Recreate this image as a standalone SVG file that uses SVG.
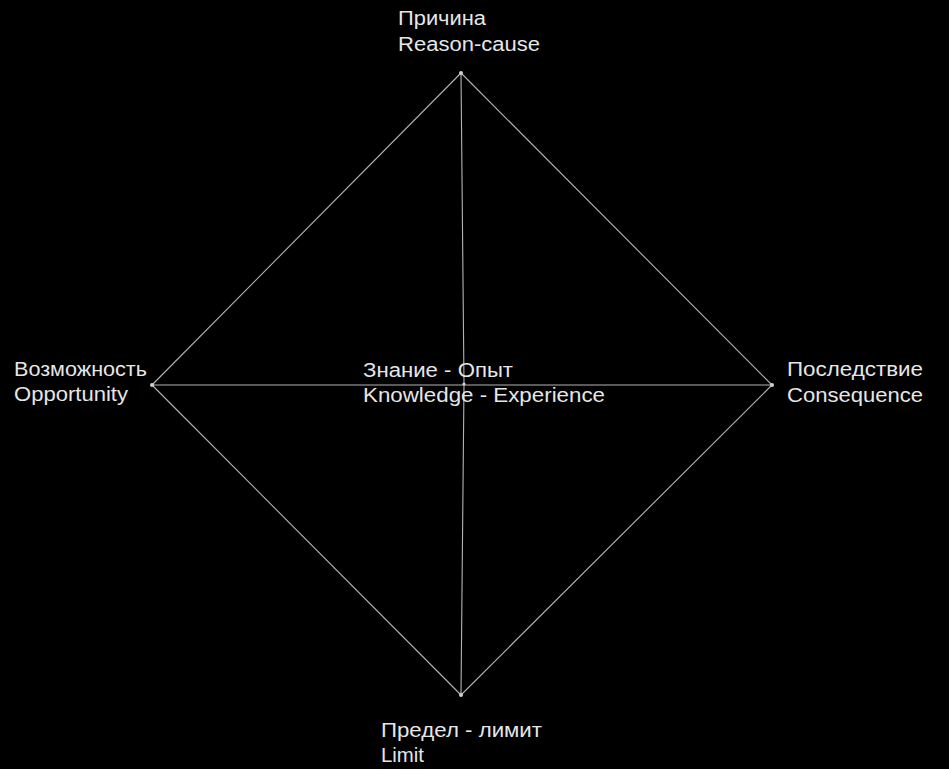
<svg xmlns="http://www.w3.org/2000/svg" width="949" height="769" viewBox="0 0 949 769">
<style>
.t{font-family:"Liberation Sans",Arial,sans-serif;font-size:20px;fill:#e6e6e6}
.e{stroke:#b4b4b4;stroke-width:1.1;fill:none}
.d{fill:#d0d0d0}
</style>
<rect width="949" height="769" fill="#000"/>
<g id="connectors">
<line class="e" x1="461" y1="73" x2="152" y2="385"/>
<line class="e" x1="461" y1="73" x2="772" y2="385"/>
<line class="e" x1="152" y1="385" x2="461" y2="695"/>
<line class="e" x1="772" y1="385" x2="461" y2="695"/>
<line class="e" x1="152" y1="385" x2="772" y2="385"/>
<polyline class="e" points="461,73 464,384 461,695"/>
</g>
<g id="node-top">
<circle class="d" cx="461" cy="73" r="2"/>
<text class="t" x="398" y="25" textLength="88" lengthAdjust="spacingAndGlyphs">Причина</text>
<text class="t" x="398" y="51" textLength="142" lengthAdjust="spacingAndGlyphs">Reason-cause</text>
</g>
<g id="node-left">
<circle class="d" cx="152" cy="385" r="2"/>
<text class="t" x="14" y="376" textLength="133" lengthAdjust="spacingAndGlyphs">Возможность</text>
<text class="t" x="14" y="401" textLength="114" lengthAdjust="spacingAndGlyphs">Opportunity</text>
</g>
<g id="node-center">
<circle class="d" cx="464" cy="384" r="1.6"/>
<text class="t" x="363" y="377" textLength="150" lengthAdjust="spacingAndGlyphs">Знание - Опыт</text>
<text class="t" x="363" y="402" textLength="242" lengthAdjust="spacingAndGlyphs">Knowledge - Experience</text>
</g>
<g id="node-right">
<circle class="d" cx="772" cy="385" r="2"/>
<text class="t" x="787" y="376" textLength="136" lengthAdjust="spacingAndGlyphs">Последствие</text>
<text class="t" x="787" y="402" textLength="136" lengthAdjust="spacingAndGlyphs">Consequence</text>
</g>
<g id="node-bottom">
<circle class="d" cx="461" cy="695" r="2"/>
<text class="t" x="381" y="737" textLength="161" lengthAdjust="spacingAndGlyphs">Предел - лимит</text>
<text class="t" x="381" y="762" textLength="43" lengthAdjust="spacingAndGlyphs">Limit</text>
</g>
</svg>
